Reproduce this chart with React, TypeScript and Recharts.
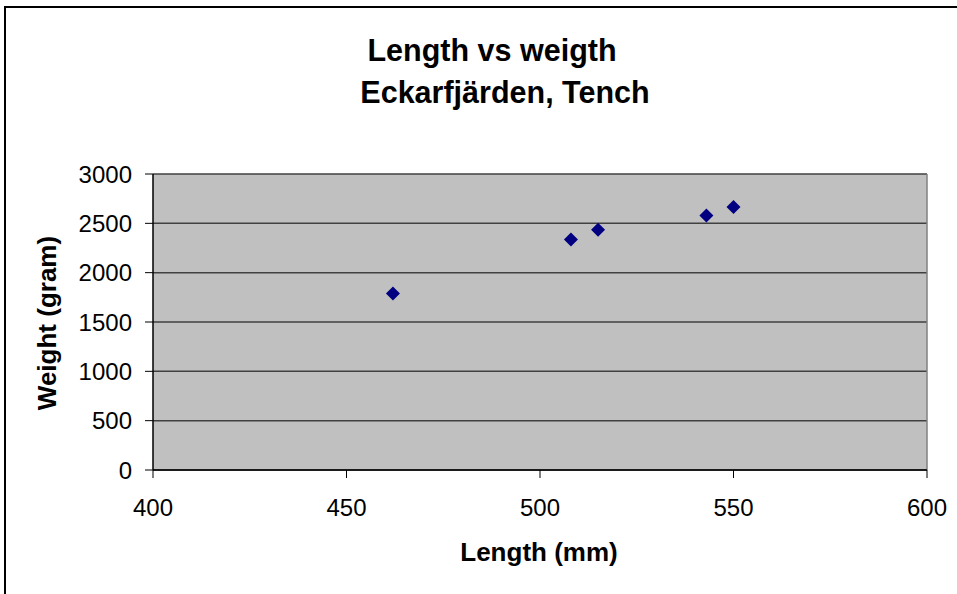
import React from 'react';
import { ScatterChart, Scatter, XAxis, YAxis, CartesianGrid, ReferenceLine } from 'recharts';

const lengths = [462, 508, 515, 543, 550];
const weights = [1790, 2335, 2435, 2580, 2665];
const xTicks = [400, 450, 500, 550, 600];
const yTicks = [0, 500, 1000, 1500, 2000, 2500, 3000];

const points = lengths.map((length, i) => ({ length, weight: weights[i] }));

const FONT = '"Liberation Sans", Arial, sans-serif';

function Diamond(props: any) {
  const { cx, cy } = props;
  const r = 7;
  return (
    <polygon
      points={`${cx},${cy - r} ${cx + r},${cy} ${cx},${cy + r} ${cx - r},${cy}`}
      fill="#000080"
    />
  );
}

export default function App() {
  return (
    <div style={{ position: 'absolute', left: 0, top: 0, width: 957, height: 594, background: '#fff', fontFamily: FONT, overflow: 'hidden' }}>
      <div style={{ position: 'absolute', left: 4, top: 6, width: 960, height: 600, borderTop: '2px solid #000', borderLeft: '2px solid #000' }} />
      <ScatterChart width={957} height={594} margin={{ top: 174, right: 30, bottom: 0, left: 0 }}>
        <CartesianGrid vertical={false} fill="#c0c0c0" stroke="#404040" strokeWidth={1.5} />
        <XAxis
          type="number"
          dataKey="length"
          domain={[400, 600]}
          ticks={xTicks}
          height={124}
          tickSize={8}
          tickMargin={21}
          axisLine={{ stroke: '#000', strokeWidth: 1.5 }}
          tickLine={{ stroke: '#000' }}
          tick={{ fill: '#000', fontSize: 24, fontFamily: FONT }}
        />
        <YAxis
          type="number"
          dataKey="weight"
          domain={[0, 3000]}
          ticks={yTicks}
          width={153}
          tickSize={8}
          tickMargin={13}
          axisLine={{ stroke: '#000', strokeWidth: 1.5 }}
          tickLine={{ stroke: '#000' }}
          tick={{ fill: '#000', fontSize: 24, fontFamily: FONT }}
        />
        <ReferenceLine x={600} stroke="#808080" strokeWidth={1.5} />
        <Scatter data={points} shape={<Diamond />} isAnimationActive={false} />
      </ScatterChart>
      <div style={{ position: 'absolute', left: 0, width: 984, top: 32, textAlign: 'center', fontSize: 30.5, fontWeight: 'bold', lineHeight: '36px', whiteSpace: 'nowrap' }}>
        Length vs weigth
      </div>
      <div style={{ position: 'absolute', left: 0, width: 1010, top: 74, textAlign: 'center', fontSize: 30.5, fontWeight: 'bold', lineHeight: '36px', whiteSpace: 'nowrap' }}>
        Eckarfjärden, Tench
      </div>
      <div style={{ position: 'absolute', left: 0, width: 1078, top: 537, textAlign: 'center', fontSize: 26, fontWeight: 'bold', lineHeight: '30px', whiteSpace: 'nowrap' }}>
        Length (mm)
      </div>
      <div style={{ position: 'absolute', left: 47, top: 323, width: 0, height: 0 }}>
        <div style={{ position: 'absolute', left: -150, top: -15, width: 300, height: 30, lineHeight: '30px', textAlign: 'center', fontSize: 26, fontWeight: 'bold', transform: 'rotate(-90deg)', whiteSpace: 'nowrap' }}>
          Weight (gram)
        </div>
      </div>
    </div>
  );
}
